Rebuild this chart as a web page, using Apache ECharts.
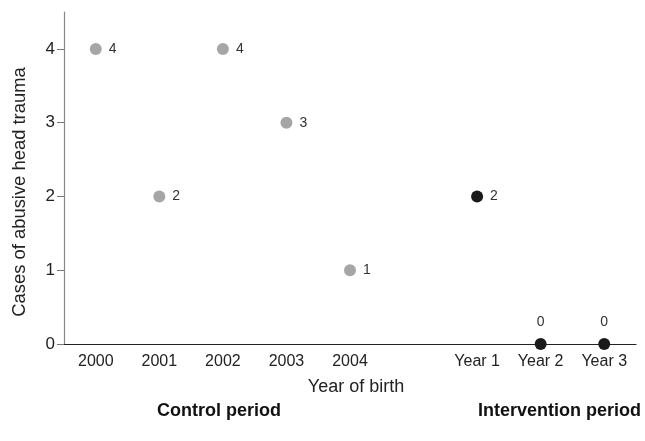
<!DOCTYPE html>
<html>
<head>
<meta charset="utf-8">
<script src="https://cdn.jsdelivr.net/npm/echarts@6/dist/echarts.min.js"></script>
<style>html,body{margin:0;padding:0;background:#fff}#c{width:645px;height:441px}</style>
</head>
<body>
<div id="c"></div>
<script>
var categories = ['2000', '2001', '2002', '2003', '2004', '', 'Year 1', 'Year 2', 'Year 3'];
var controlYears = ['2000', '2001', '2002', '2003', '2004'];
var controlCases = [4, 2, 4, 3, 1];
var interventionYears = ['Year 1', 'Year 2', 'Year 3'];
var interventionCases = [2, 0, 0];
var yTicks = [0, 1, 2, 3, 4];

var FONT = '"Liberation Sans", Arial, Helvetica, sans-serif';

function pts(xs, ys) {
  return xs.map(function (x, i) {
    return {
      value: [x, ys[i]],
      label: { position: ys[i] === 0 ? 'top' : 'right', distance: ys[i] === 0 ? 9 : 7 }
    };
  });
}

var chart = echarts.init(document.getElementById('c'), null, { renderer: 'canvas' });
chart.setOption({
  animation: false,
  grid: { left: 64, right: 9, top: 12, bottom: 97, containLabel: false },
  xAxis: {
    type: 'category',
    data: categories,
    boundaryGap: true,
    axisLine: { lineStyle: { color: '#222', width: 1.2 } },
    axisTick: { show: false },
    axisLabel: { color: '#222', fontSize: 16, fontFamily: FONT, margin: 10 },
    name: 'Year of birth',
    nameLocation: 'middle',
    nameGap: 34,
    nameTextStyle: { color: '#222', fontSize: 18, fontFamily: FONT, padding: [0, 0, 0, 12] }
  },
  yAxis: {
    type: 'value',
    min: 0,
    max: 4.5,
    interval: 1,
    splitLine: { show: false },
    axisLine: { show: true, lineStyle: { color: '#888', width: 1.2 } },
    axisTick: { show: true, length: 7, customValues: yTicks, lineStyle: { color: '#777' } },
    axisLabel: { color: '#222', fontSize: 17, fontFamily: FONT, margin: 9, customValues: yTicks },
    name: 'Cases of abusive head trauma',
    nameLocation: 'middle',
    nameGap: 35,
    nameTextStyle: { color: '#222', fontSize: 18.4, fontFamily: FONT, padding: [0, 28, 0, 0] }
  },
  series: [
    {
      type: 'scatter',
      name: 'Control period',
      data: pts(controlYears, controlCases),
      symbolSize: 12,
      itemStyle: { color: '#a6a6a6', opacity: 1 },
      label: { show: true, color: '#333', fontSize: 14, fontFamily: FONT,
        formatter: function (p) { return p.value[1]; } }
    },
    {
      type: 'scatter',
      name: 'Intervention period',
      data: pts(interventionYears, interventionCases),
      symbolSize: 12,
      itemStyle: { color: '#1a1a1a', opacity: 1 },
      label: { show: true, color: '#333', fontSize: 14, fontFamily: FONT,
        formatter: function (p) { return p.value[1]; } }
    }
  ],
  graphic: [
    { type: 'text', left: 157, top: 402,
      style: { text: 'Control period', fontSize: 18, fontWeight: 'bold', fontFamily: FONT, fill: '#111' } },
    { type: 'text', right: 4, top: 402,
      style: { text: 'Intervention period', fontSize: 18, fontWeight: 'bold', fontFamily: FONT, fill: '#111' } }
  ]
});
</script>
</body>
</html>
